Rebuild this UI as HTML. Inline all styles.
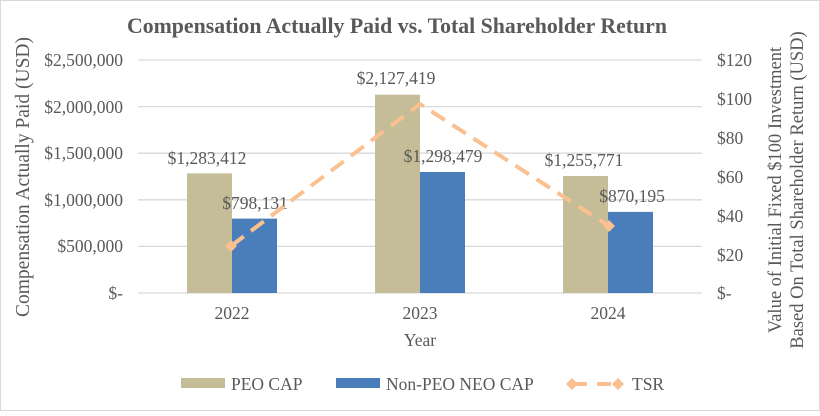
<!DOCTYPE html>
<html><head><meta charset="utf-8"><style>body{margin:0;background:#fff}</style></head><body>
<svg width="820" height="411" viewBox="0 0 820 411" xmlns="http://www.w3.org/2000/svg" font-family="Liberation Serif, serif" fill="#595959">
<rect x="0.5" y="0.5" width="819" height="410" fill="#fff" stroke="#d9d9d9"/>
<text x="397" y="33" text-anchor="middle" font-size="21.8" font-weight="bold" fill="#595959">Compensation Actually Paid vs. Total Shareholder Return</text>
<g stroke="#d9d9d9" stroke-width="1.3">
<line x1="138" x2="702" y1="60" y2="60"/><line x1="138" x2="702" y1="106.6" y2="106.6"/><line x1="138" x2="702" y1="153.2" y2="153.2"/><line x1="138" x2="702" y1="199.8" y2="199.8"/><line x1="138" x2="702" y1="246.4" y2="246.4"/><line x1="138" x2="702" y1="293" y2="293"/>
</g>
<g font-size="17.5" text-anchor="end">
<text x="123" y="66">$2,500,000</text><text x="123" y="113">$2,000,000</text><text x="123" y="159">$1,500,000</text><text x="123" y="206">$1,000,000</text><text x="123" y="252">$500,000</text><text x="123" y="299">$-</text>
</g>
<g font-size="17.5">
<text x="717" y="66">$120</text><text x="717" y="105">$100</text><text x="717" y="144">$80</text><text x="717" y="183">$60</text><text x="717" y="222">$40</text><text x="717" y="261">$20</text><text x="717" y="299">$-</text>
</g>
<g fill="#c4bd97">
<rect x="187" y="173.4" width="45" height="119.6"/><rect x="375" y="94.7" width="45" height="198.3"/><rect x="563" y="176" width="45" height="117"/>
</g>
<g fill="#4a7ebb">
<rect x="232" y="218.6" width="45" height="74.4"/><rect x="420" y="172" width="45" height="121"/><rect x="608" y="211.9" width="45" height="81.1"/>
</g>
<g font-size="17.5" text-anchor="middle">
<text x="207" y="164">$1,283,412</text><text x="255" y="209">$798,131</text>
<text x="396" y="84">$2,127,419</text><text x="443" y="162">$1,298,479</text>
<text x="584" y="166">$1,255,771</text><text x="632" y="202">$870,195</text>
<text x="232" y="319">2022</text><text x="420" y="319">2023</text><text x="608" y="319">2024</text>
<text x="420" y="346">Year</text>
</g>
<polyline points="231,246 420,104 609,226" fill="none" stroke="#fac090" stroke-width="4" stroke-dasharray="16,9"/>
<path d="M231 240 l6 6 -6 6 -6 -6z M609 220 l6 6 -6 6 -6 -6z" fill="#fac090"/>
<text transform="translate(29,177) rotate(-90)" font-size="19.5" text-anchor="middle">Compensation Actually Paid (USD)</text>
<text transform="translate(781,190) rotate(-90)" font-size="18.5" text-anchor="middle">Value of Initial Fixed $100 Investment</text>
<text transform="translate(803,190) rotate(-90)" font-size="18.5" text-anchor="middle">Based On Total Shareholder Return (USD)</text>
<rect x="181" y="378" width="44" height="10" fill="#c4bd97"/>
<text x="231" y="390" font-size="17.5">PEO CAP</text>
<rect x="336" y="378" width="44" height="10" fill="#4a7ebb"/>
<text x="386" y="390" font-size="17.5">Non-PEO NEO CAP</text>
<line x1="573" x2="620" y1="384" y2="384" stroke="#fac090" stroke-width="4" stroke-dasharray="14,10"/>
<path d="M572 378 l6 6 -6 6 -6 -6z M618 378 l6 6 -6 6 -6 -6z" fill="#fac090"/>
<text x="632" y="390" font-size="17.5">TSR</text>
</svg>
</body></html>
